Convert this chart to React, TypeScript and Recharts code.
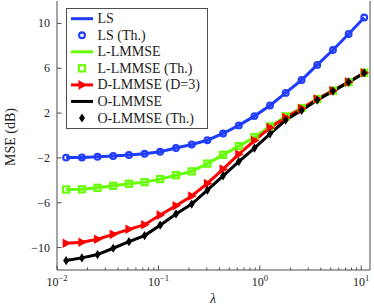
import { ComposedChart, Line, XAxis, YAxis } from "recharts";

// lambda values on the x axis (log scale)
const lambdas = [
  0.0123, 0.0176, 0.0251, 0.0358, 0.0512, 0.0731, 0.104, 0.149, 0.213, 0.304,
  0.434, 0.62, 0.885, 1.26, 1.8, 2.58, 3.68, 5.26, 7.51, 10.7,
];

// MSE in dB
const ls = [
  -1.97, -1.96, -1.9, -1.83, -1.74, -1.63, -1.45, -1.12, -0.8, -0.42, 0.18, 0.9,
  1.73, 2.68, 3.8, 4.95, 6.3, 7.63, 9.06, 10.53,
];
const lLmmse = [
  -4.82, -4.8, -4.67, -4.49, -4.31, -4.16, -3.89, -3.54, -3.2, -2.51, -1.73,
  -0.95, -0.15, 0.8, 1.7, 2.45, 3.25, 4.0, 4.75, 5.6,
];
const dLmmse = [
  -9.62, -9.53, -9.26, -8.82, -8.37, -7.96, -7.1, -6.27, -5.4, -4.28, -3.0,
  -1.67, -0.45, 0.7, 1.6, 2.4, 3.25, 4.0, 4.78, 5.6,
];
const oLmmse = [
  -11.16, -10.92, -10.62, -10.06, -9.47, -8.93, -8.0, -7.0, -6.12, -4.87, -3.6,
  -2.33, -1.12, 0.15, 1.38, 2.24, 3.16, 3.96, 4.76, 5.58,
];

const xDecades = [0.01, 0.1, 1, 10];
const xDecadeLabels = ["−2", "−1", "0", "1"];
const xTicks = xDecades.flatMap((d) =>
  d === 10 ? [10] : [1, 2, 3, 4, 5, 6, 7, 8, 9].map((m) => m * d)
);
const yTicks = [-10, -6, -2, 2, 6, 10];

const BLUE = "#1f3cff";
const GREEN = "#66ff00";
const RED = "#ff0000";
const BLACK = "#000000";
const AXIS = "#4d4d4d";
const FONT = "'Liberation Serif', serif";

const data = lambdas.map((x, i) => ({
  x,
  ls: ls[i],
  ll: lLmmse[i],
  dl: dLmmse[i],
  ol: oLmmse[i],
}));

const isMajor = (v: number) =>
  xDecades.some((d) => Math.abs(v - d) < d * 1e-6);

const BottomTick = (props: any) => {
  const { x, y, payload } = props;
  const major = isMajor(payload.value);
  const idx = xDecades.findIndex((d) => Math.abs(payload.value - d) < d * 1e-6);
  return (
    <g>
      <line x1={x} x2={x} y1={y} y2={y - (major ? 4.5 : 2.5)} stroke={AXIS} />
      {major && (
        <text x={x} y={y + 16} textAnchor="middle" fontFamily={FONT} fontSize={12} fill="#222">
          <tspan>10</tspan>
          <tspan dy={-5} fontSize={8.5}>
            {xDecadeLabels[idx]}
          </tspan>
        </text>
      )}
    </g>
  );
};

const TopTick = (props: any) => {
  const { x, y, payload } = props;
  const major = isMajor(payload.value);
  return <line x1={x} x2={x} y1={y} y2={y + (major ? 4.5 : 2.5)} stroke={AXIS} />;
};

const LeftTick = (props: any) => {
  const { x, y, payload } = props;
  const v = payload.value as number;
  return (
    <g>
      <line x1={x} x2={x + 4.5} y1={y} y2={y} stroke={AXIS} />
      <text x={x - 7} y={y + 4} textAnchor="end" fontFamily={FONT} fontSize={12} fill="#222">
        {v < 0 ? `−${-v}` : `${v}`}
      </text>
    </g>
  );
};

const RightTick = (props: any) => {
  const { x, y } = props;
  return <line x1={x} x2={x - 4.5} y1={y} y2={y} stroke={AXIS} />;
};

const circleDot = (p: any) => (
  <circle key={p.key} cx={p.cx} cy={p.cy} r={2.9} fill="none" stroke={BLUE} strokeWidth={2.1} />
);
const squareDot = (p: any) => (
  <rect key={p.key} x={p.cx - 3.1} y={p.cy - 3.1} width={6.2} height={6.2} fill="none" stroke={GREEN} strokeWidth={2.1} />
);
const triangleDot = (p: any) => (
  <polygon
    key={p.key}
    points={`${p.cx + 5},${p.cy} ${p.cx - 3.5},${p.cy - 4.8} ${p.cx - 3.5},${p.cy + 4.8}`}
    fill={RED}
  />
);
const diamondDot = (p: any) => (
  <polygon
    key={p.key}
    points={`${p.cx},${p.cy - 4.6} ${p.cx + 3},${p.cy} ${p.cx},${p.cy + 4.6} ${p.cx - 3},${p.cy}`}
    fill={BLACK}
  />
);

const legendItems = [
  { label: "LS", color: BLUE, line: true, mark: null },
  { label: "LS (Th.)", color: BLUE, line: false, mark: "circle" },
  { label: "L-LMMSE", color: GREEN, line: true, mark: null },
  { label: "L-LMMSE (Th.)", color: GREEN, line: false, mark: "square" },
  { label: "D-LMMSE (D=3)", color: RED, line: true, mark: "triangle" },
  { label: "O-LMMSE", color: BLACK, line: true, mark: null },
  { label: "O-LMMSE (Th.)", color: BLACK, line: false, mark: "diamond" },
];

const LegendMark = ({ mark, cx, cy }: any) => {
  if (mark === "circle") return circleDot({ cx, cy });
  if (mark === "square") return squareDot({ cx, cy });
  if (mark === "triangle") return triangleDot({ cx, cy });
  if (mark === "diamond") return diamondDot({ cx, cy });
  return null;
};

export default function App() {
  return (
    <div style={{ position: "absolute", left: 0, top: 0, width: 374, height: 308, background: "#fff" }}>
      <ComposedChart width={374} height={308} data={data} margin={{ top: 1, right: 0, bottom: 0, left: 0 }}>
        <XAxis
          dataKey="x"
          type="number"
          scale="log"
          domain={[0.01, 12.2]}
          ticks={xTicks}
          interval={0}
          allowDataOverflow
          height={38}
          tickSize={0}
          tickMargin={0}
          stroke={AXIS}
          tick={<BottomTick />}
        />
        <XAxis
          xAxisId="top"
          orientation="top"
          dataKey="x"
          type="number"
          scale="log"
          domain={[0.01, 12.2]}
          ticks={xTicks}
          interval={0}
          allowDataOverflow
          height={0}
          tickSize={0}
          tickMargin={0}
          stroke={AXIS}
          tick={<TopTick />}
        />
        <YAxis
          type="number"
          domain={[-12, 12]}
          ticks={yTicks}
          interval={0}
          width={57}
          tickSize={0}
          tickMargin={0}
          stroke={AXIS}
          tick={<LeftTick />}
        />
        <YAxis
          yAxisId="right"
          orientation="right"
          type="number"
          domain={[-12, 12]}
          ticks={yTicks}
          interval={0}
          width={4}
          tickSize={0}
          tickMargin={0}
          stroke={AXIS}
          tick={<RightTick />}
        />
        <Line dataKey="ls" stroke={BLUE} strokeWidth={3} dot={false} isAnimationActive={false} />
        <Line dataKey="ls" stroke="none" dot={circleDot} activeDot={false} isAnimationActive={false} />
        <Line dataKey="ll" stroke={GREEN} strokeWidth={3} dot={false} isAnimationActive={false} />
        <Line dataKey="ll" stroke="none" dot={squareDot} activeDot={false} isAnimationActive={false} />
        <Line dataKey="dl" stroke={RED} strokeWidth={3} dot={triangleDot} activeDot={false} isAnimationActive={false} />
        <Line dataKey="ol" stroke={BLACK} strokeWidth={3} dot={false} isAnimationActive={false} />
        <Line dataKey="ol" stroke="none" dot={diamondDot} activeDot={false} isAnimationActive={false} />
      </ComposedChart>
      <svg width={374} height={308} style={{ position: "absolute", left: 0, top: 0, pointerEvents: "none" }}>
        <text
          x={15}
          y={137}
          transform="rotate(-90 15 137)"
          textAnchor="middle"
          fontFamily={FONT}
          fontSize={14}
          fill="#222"
        >
          MSE (dB)
        </text>
        <text x={213} y={303} textAnchor="middle" fontFamily={FONT} fontStyle="italic" fontSize={14} fill="#222">
          λ
        </text>
        <rect x={66.5} y={8.5} width={141} height={120} fill="#fff" stroke={AXIS} />
        {legendItems.map((it, i) => {
          const cy = 18.7 + i * 16.55;
          return (
            <g key={it.label}>
              {it.line && <line x1={71} x2={93} y1={cy} y2={cy} stroke={it.color} strokeWidth={3} />}
              <LegendMark mark={it.mark} cx={82} cy={cy} />
              <text x={97.5} y={cy + 4.5} fontFamily={FONT} fontSize={14} fill="#222">
                {it.label}
              </text>
            </g>
          );
        })}
      </svg>
    </div>
  );
}
